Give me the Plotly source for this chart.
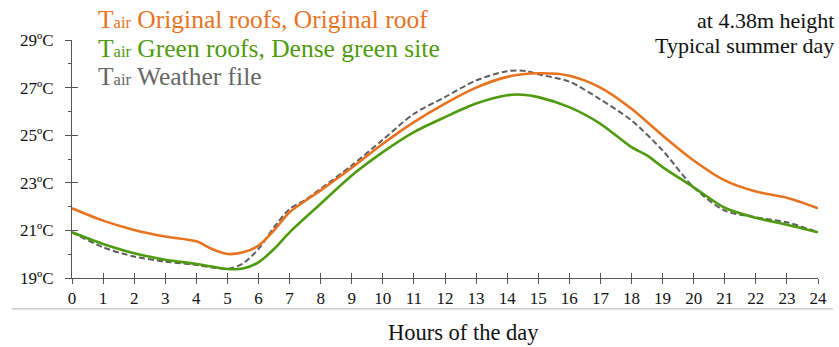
import plotly.graph_objects as go

# Air temperature over a typical summer day (hours 0-24), degrees C
hours_orig = [0, 1, 2, 3, 4, 4.5, 5, 5.5, 6, 6.5, 7, 8, 9, 10, 11, 12, 13, 14, 15,
              16, 17, 18, 19, 20, 21, 22, 23, 24]
tair_orig = [21.93, 21.41, 21.02, 20.74, 20.54, 20.22, 20.01, 20.08, 20.36, 21.0,
             21.76, 22.68, 23.63, 24.64, 25.55, 26.33, 27.0, 27.45, 27.6, 27.5,
             27.0, 26.11, 24.99, 23.94, 23.1, 22.63, 22.37, 21.93]

hours_green = [0, 1, 2, 3, 4, 4.5, 5, 5.5, 6, 6.5, 7, 8, 9, 10, 11, 12, 13, 14,
               14.5, 15, 16, 17, 18, 18.5, 19, 20, 21, 22, 23, 24]
tair_green = [20.92, 20.43, 20.04, 19.77, 19.59, 19.48, 19.38, 19.4, 19.66, 20.22,
              20.92, 22.12, 23.31, 24.29, 25.13, 25.76, 26.33, 26.68, 26.7, 26.6,
              26.18, 25.48, 24.5, 24.15, 23.66, 22.81, 21.95, 21.53, 21.24, 20.92]

hours_weather = [0, 1, 2, 3, 4, 5, 5.5, 6, 6.5, 7, 7.5, 8, 9, 10, 11, 12, 13, 14,
                 14.6, 15, 16, 17, 18, 19, 20, 21, 22, 23, 24]
tair_weather = [20.92, 20.29, 19.9, 19.69, 19.55, 19.38, 19.61, 20.22, 21.13, 21.9,
                22.28, 22.75, 23.73, 24.81, 25.9, 26.6, 27.3, 27.69, 27.7, 27.56,
                27.25, 26.5, 25.62, 24.36, 22.81, 21.83, 21.55, 21.34, 20.92]

ORANGE = "#E8731F"
GREEN = "#4F9A0E"
GREY = "#5E5E5E"
AXIS = "#555555"
FONT = "Liberation Serif, Times New Roman, serif"

fig = go.Figure()
fig.add_trace(go.Scatter(x=hours_weather, y=tair_weather, mode="lines",
                         line=dict(color=GREY, width=2, dash="6px,3px", shape="spline",
                                   smoothing=0.8),
                         name="Weather file"))
fig.add_trace(go.Scatter(x=hours_orig, y=tair_orig, mode="lines",
                         line=dict(color=ORANGE, width=2.6, shape="spline", smoothing=0.8),
                         name="Original roofs, Original roof"))
fig.add_trace(go.Scatter(x=hours_green, y=tair_green, mode="lines",
                         line=dict(color=GREEN, width=2.6, shape="spline", smoothing=0.8),
                         name="Green roofs, Dense green site"))
# empty trace so the overlay axes (inner half of the crossing ticks) are drawn
fig.add_trace(go.Scatter(x=[], y=[], xaxis="x2", yaxis="y2", showlegend=False,
                         hoverinfo="skip"))

fig.update_layout(
    width=839, height=347,
    margin=dict(l=72, r=12, t=40, b=69),
    paper_bgcolor="white", plot_bgcolor="white",
    showlegend=False,
    font=dict(family=FONT, color="#111111"),
    xaxis=dict(range=[0, 24], tickmode="linear", tick0=0, dtick=1,
               showgrid=False, zeroline=False, showline=True, linecolor=AXIS,
               linewidth=1, ticks="outside", ticklen=5, tickcolor=AXIS,
               tickfont=dict(family=FONT, size=17, color="#111111")),
    yaxis=dict(range=[19, 29], tickmode="linear", tick0=19, dtick=2,
               ticksuffix="ºC", showgrid=False, zeroline=False, showline=True,
               linecolor=AXIS, linewidth=1, ticks="outside", ticklen=6,
               tickcolor=AXIS, ticklabelstandoff=8,
               minor=dict(ticks="outside", ticklen=3, dtick=1, tickcolor=AXIS),
               tickfont=dict(family=FONT, size=17, color="#111111")),
    xaxis2=dict(range=[0, 24], overlaying="x", anchor="y2", tickmode="linear",
                tick0=0, dtick=1, ticks="inside", ticklen=5, tickcolor=AXIS,
                showticklabels=False, showgrid=False, zeroline=False, showline=False),
    yaxis2=dict(range=[19, 29], overlaying="y", anchor="x2", tickmode="linear",
                tick0=19, dtick=2, ticks="inside", ticklen=6, tickcolor=AXIS,
                showticklabels=False, showgrid=False, zeroline=False, showline=False),
)

# separator rule above the axis title
fig.add_shape(type="line", xref="paper", yref="paper", x0=-0.081, x1=1.02,
              y0=-0.13, y1=-0.13, line=dict(color="#BFBFBF", width=1.2))

fig.add_annotation(text="Hours of the day", xref="paper", yref="paper",
                   x=0.525, y=-0.227, xanchor="center", yanchor="middle",
                   showarrow=False, font=dict(family=FONT, size=22.5, color="#111111"))

legend_rows = [
    ("Original roofs, Original roof", ORANGE, 1.085),
    ("Green roofs, Dense green site", GREEN, 0.966),
    ("Weather file", "#666666", 0.847),
]
for label, color, ypos in legend_rows:
    fig.add_annotation(
        text="T<span style='font-size:16.5px'>air</span> " + label,
        xref="paper", yref="paper", x=0.032, y=ypos,
        xanchor="left", yanchor="middle", showarrow=False,
        font=dict(family=FONT, size=25.5, color=color))

fig.add_annotation(text="at 4.38m height", xref="paper", yref="paper",
                   x=1.024, y=1.084, xanchor="right", yanchor="middle",
                   showarrow=False, font=dict(family=FONT, size=22, color="#111111"))
fig.add_annotation(text="Typical summer day", xref="paper", yref="paper",
                   x=1.024, y=0.976, xanchor="right", yanchor="middle",
                   showarrow=False, font=dict(family=FONT, size=22, color="#111111"))

fig.write_html("out.html")
